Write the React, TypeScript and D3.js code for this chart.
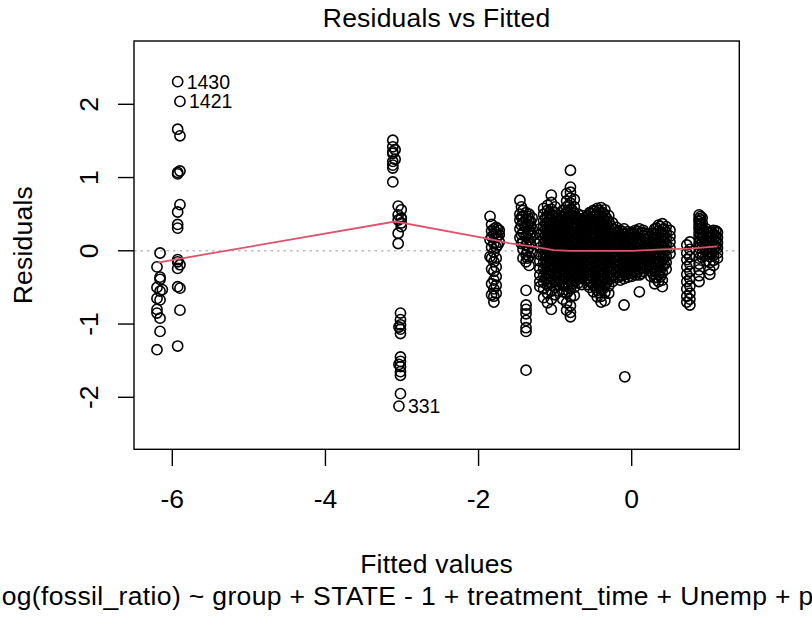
import React from "react";
import * as d3 from "d3";

// Axis ticks
const xTicks = [-6, -4, -2, 0];
const yTicks = [-2, -1, 0, 1, 2];

// Observations grouped by fitted value: [fitted, residuals[]]
const stripesLeft: [number, number[]][] = [
  [-6.2, [-0.22, -0.5, -0.65, -0.8, -0.85, -1.35]],
  [-6.16, [-0.03, -0.36, -0.39, -0.55, -0.67, -0.92, -1.1]],
  [-6.13, [-0.53]],
  [-5.93, [2.31, 1.66, 1.07, 1.05, 0.53, 0.36, 0.31, -0.12, -0.15, -0.24, -0.49, -1.3]],
  [-5.9, [2.04, 1.57, 1.09, 0.63, -0.19, -0.51, -0.81]],
];

const stripesMiddle: [number, number[]][] = [
  [-3.12, [1.51, 1.42, 1.35, 1.33, 1.22, 1.17, 1.13, 0.94]],
  [-3.09, [1.38, 1.25]],
  [-3.05, [0.61, 0.49, 0.42, 0.24, 0.1]],
  [-3.01, [0.56, 0.44, 0.33, 0.45, 0.38]],
  [-3.02, [-0.85, -0.94, -1.01, -1.07, -1.13, -1.45, -1.51, -1.58, -1.65, -1.7, -1.95]],
  [-3.04, [-2.12, -1.04, -1.55]],
];

const stripesRight: [number, number[]][] = [
  [-1.85, [0.47, 0.15, -0.08]],
  [-1.83, [0.36, 0.27, 0.19, 0.05, -0.1, -0.25, -0.45, -0.6]],
  [-1.8, [0.3, 0.22, 0.1, -0.02, -0.15, -0.28, -0.4, -0.52, -0.62, -0.7]],
  [-1.77, [0.32, 0.25, 0.18, 0.05, -0.1, -0.22, -0.35, -0.47, -0.58]],
  [-1.75, [0.3, 0.2, 0.08]],
  [-1.73, [0.28, 0.22, 0.12]],
  [-1.46, [0.69, 0.5, 0.42, 0.3, 0.18]],
  [-1.44, [0.6, 0.46, 0.35, 0.22, 0.1]],
  [-1.42, [0.55, 0.47, 0.38, 0.25, 0.12, 0.02, -0.1]],
  [-1.38, [0.52, 0.44, 0.33, 0.2, 0.08, -0.05, -0.15, -0.54, -0.74, -0.8, -0.86, -0.95, -1.05, -1.1, -1.63]],
  [-1.36, [0.47, 0.36, 0.25, 0.12, 0.0, -0.1]],
  [-1.34, [0.5, 0.4, 0.28, 0.15, 0.05, -0.08, -0.2]],
  [-1.32, [0.4, 0.34, 0.24, 0.1]],
  [-1.3, [0.45, 0.3, 0.2, -0.02]],
  [-1.2, [0.3, 0.22, 0.12, 0.04, -0.05, -0.14, -0.24, -0.33, -0.42, -0.49]],
  [-1.15, [0.58, 0.5, 0.41, 0.33, 0.26, 0.18, 0.1, 0.02, -0.07, -0.16, -0.25, -0.34, -0.43, -0.52, -0.64]],
  [-1.125, [0.45, 0.37, 0.29, 0.2, 0.12, 0.05, -0.03, -0.11, -0.19, -0.28, -0.37]],
  [-1.1, [0.62, 0.55, 0.47, 0.39, 0.31, 0.24, 0.16, 0.09, 0.01, -0.07, -0.15, -0.22, -0.3, -0.38, -0.47, -0.58, -0.71]],
  [-1.075, [0.52, 0.43, 0.35, 0.27, 0.2, 0.12, 0.05, -0.03, -0.11, -0.19, -0.26, -0.34, -0.43]],
  [-1.05, [0.76, 0.66, 0.57, 0.5, 0.43, 0.35, 0.28, 0.21, 0.13, 0.06, -0.02, -0.1, -0.18, -0.27, -0.35, -0.44, -0.55, -0.66, -0.8]],
  [-1.025, [0.47, 0.39, 0.32, 0.25, 0.17, 0.1, 0.02, -0.06, -0.14, -0.22, -0.31, -0.4]],
  [-1.0, [0.6, 0.52, 0.44, 0.37, 0.29, 0.22, 0.15, 0.07, 0.0, -0.08, -0.16, -0.24, -0.33, -0.41, -0.5, -0.6]],
  [-0.975, [0.44, 0.36, 0.29, 0.22, 0.15, 0.08, 0.0, -0.08, -0.16, -0.24, -0.32]],
  [-0.95, [0.48, 0.4, 0.33, 0.26, 0.19, 0.11, 0.04, -0.04, -0.12, -0.2, -0.28, -0.37, -0.46, -0.55]],
  [-0.925, [0.42, 0.35, 0.28, 0.21, 0.13, 0.06, -0.01, -0.09, -0.17, -0.25, -0.33, -0.42]],
  [-0.9, [0.55, 0.46, 0.38, 0.31, 0.24, 0.17, 0.1, 0.03, -0.05, -0.13, -0.21, -0.29, -0.38, -0.47, -0.56, -0.66]],
  [-0.875, [0.5, 0.41, 0.34, 0.27, 0.2, 0.12, 0.05, -0.02, -0.1, -0.18, -0.26, -0.34, -0.43]],
  [-0.85, [0.78, 0.68, 0.6, 0.52, 0.44, 0.37, 0.3, 0.23, 0.16, 0.09, 0.02, -0.06, -0.14, -0.22, -0.3, -0.39, -0.48, -0.58, -0.71, -0.81]],
  [-0.825, [0.62, 0.53, 0.46, 0.38, 0.31, 0.24, 0.16, 0.09, 0.02, -0.05, -0.13, -0.21, -0.29, -0.37, -0.46, -0.55]],
  [-0.8, [1.1, 0.87, 0.8, 0.72, 0.65, 0.57, 0.49, 0.42, 0.35, 0.27, 0.2, 0.13, 0.06, -0.01, -0.09, -0.17, -0.25, -0.33, -0.42, -0.52, -0.63, -0.75, -0.84, -0.9]],
  [-0.775, [0.55, 0.47, 0.39, 0.32, 0.25, 0.17, 0.1, 0.03, -0.04, -0.12, -0.2, -0.28, -0.36, -0.45]],
  [-0.75, [0.7, 0.6, 0.51, 0.44, 0.36, 0.29, 0.21, 0.14, 0.07, 0.0, -0.08, -0.16, -0.24, -0.32, -0.41, -0.5, -0.61]],
  [-0.725, [0.46, 0.38, 0.31, 0.24, 0.16, 0.09, 0.01, -0.07, -0.15, -0.23, -0.31, -0.4]],
  [-0.7, [0.5, 0.42, 0.34, 0.27, 0.2, 0.12, 0.05, -0.03, -0.11, -0.19, -0.27, -0.35, -0.44]],
  [-0.675, [0.44, 0.37, 0.29, 0.22, 0.14, 0.07, -0.01, -0.09, -0.17, -0.25, -0.33]],
  [-0.65, [0.48, 0.4, 0.33, 0.25, 0.18, 0.1, 0.03, -0.05, -0.13, -0.21, -0.29, -0.38, -0.46]],
  [-0.625, [0.41, 0.34, 0.27, 0.19, 0.12, 0.04, -0.03, -0.11, -0.19, -0.27, -0.35]],
  [-0.6, [0.45, 0.37, 0.3, 0.23, 0.15, 0.08, 0.0, -0.07, -0.15, -0.23, -0.31, -0.4]],
  [-0.575, [0.48, 0.4, 0.32, 0.25, 0.18, 0.1, 0.03, -0.05, -0.13, -0.21, -0.29, -0.37, -0.46]],
  [-0.55, [0.52, 0.44, 0.36, 0.28, 0.21, 0.14, 0.06, -0.01, -0.09, -0.17, -0.25, -0.33, -0.42, -0.5]],
  [-0.525, [0.51, 0.43, 0.36, 0.29, 0.21, 0.13, 0.06, -0.02, -0.1, -0.18, -0.26, -0.34, -0.42]],
  [-0.5, [0.55, 0.47, 0.4, 0.32, 0.25, 0.17, 0.1, 0.02, -0.06, -0.14, -0.22, -0.3, -0.38, -0.47, -0.56]],
  [-0.475, [0.54, 0.46, 0.38, 0.31, 0.23, 0.16, 0.08, 0.0, -0.08, -0.16, -0.24, -0.32, -0.41, -0.5]],
  [-0.45, [0.58, 0.5, 0.42, 0.35, 0.27, 0.19, 0.12, 0.04, -0.04, -0.12, -0.2, -0.28, -0.36, -0.45, -0.54, -0.63]],
  [-0.425, [0.55, 0.47, 0.39, 0.32, 0.24, 0.17, 0.09, 0.02, -0.06, -0.14, -0.22, -0.3, -0.39, -0.48, -0.57]],
  [-0.4, [0.59, 0.51, 0.43, 0.36, 0.28, 0.21, 0.13, 0.06, -0.02, -0.1, -0.18, -0.26, -0.34, -0.43, -0.52, -0.62, -0.7]],
  [-0.375, [0.52, 0.44, 0.36, 0.29, 0.21, 0.14, 0.06, -0.01, -0.09, -0.17, -0.25, -0.33, -0.42, -0.52]],
  [-0.35, [0.56, 0.48, 0.4, 0.33, 0.25, 0.18, 0.1, 0.03, -0.05, -0.13, -0.21, -0.29, -0.38, -0.47, -0.57, -0.68]],
  [-0.325, [0.44, 0.36, 0.28, 0.21, 0.13, 0.06, -0.02, -0.1, -0.18, -0.26, -0.34, -0.43]],
  [-0.3, [0.48, 0.4, 0.32, 0.25, 0.17, 0.1, 0.02, -0.06, -0.14, -0.22, -0.3, -0.39, -0.48, -0.58]],
  [-0.275, [0.34, 0.27, 0.19, 0.12, 0.04, -0.04, -0.12, -0.2, -0.28, -0.37]],
  [-0.25, [0.38, 0.3, 0.23, 0.15, 0.08, 0.0, -0.08, -0.16, -0.24, -0.33, -0.42]],
  [-0.225, [0.29, 0.21, 0.14, 0.06, -0.01, -0.09, -0.17, -0.25, -0.33]],
  [-0.2, [0.32, 0.25, 0.17, 0.1, 0.03, -0.05, -0.13, -0.21, -0.29, -0.37]],
  [-0.175, [0.25, 0.17, 0.1, 0.02, -0.05, -0.13, -0.21, -0.29, -0.36]],
  [-0.15, [0.28, 0.21, 0.14, 0.06, -0.01, -0.09, -0.17, -0.25, -0.33, -0.4]],
  [-0.125, [0.26, 0.19, 0.12, 0.04, -0.03, -0.11, -0.19, -0.27, -0.34]],
  [-0.1, [0.3, 0.23, 0.16, 0.08, 0.01, -0.07, -0.15, -0.23, -0.31, -0.38, -0.74]],
  [-0.09, [-1.72]],
  [-0.075, [0.23, 0.15, 0.08, 0.0, -0.08, -0.16, -0.24, -0.32]],
  [-0.05, [0.26, 0.19, 0.11, 0.04, -0.04, -0.12, -0.2, -0.28, -0.36]],
  [-0.025, [0.22, 0.14, 0.07, -0.01, -0.09, -0.17, -0.25, -0.31]],
  [0.0, [0.25, 0.18, 0.1, 0.03, -0.05, -0.13, -0.21, -0.29, -0.35]],
  [0.025, [0.24, 0.16, 0.09, 0.01, -0.06, -0.14, -0.22, -0.3]],
  [0.05, [0.28, 0.2, 0.13, 0.05, -0.02, -0.1, -0.18, -0.26, -0.33]],
  [0.075, [0.26, 0.18, 0.1, 0.03, -0.05, -0.13, -0.21, -0.29]],
  [0.1, [0.3, 0.22, 0.14, 0.07, -0.01, -0.09, -0.17, -0.25, -0.33, -0.56]],
  [0.125, [0.25, 0.16, 0.09, 0.01, -0.07, -0.15, -0.23, -0.31]],
  [0.15, [0.28, 0.2, 0.12, 0.05, -0.03, -0.11, -0.19, -0.28]],
  [0.175, [0.24, 0.16, 0.09, 0.02, -0.06, -0.14, -0.22]],
  [0.2, [0.22, 0.15, 0.07, 0.0, -0.08, -0.16, -0.24]],
  [0.225, [0.18, 0.1, 0.03, -0.05, -0.13, -0.21]],
  [0.25, [0.2, 0.12, 0.05, -0.03, -0.11, -0.19, -0.27, -0.35]],
  [0.275, [0.24, 0.16, 0.09, 0.01, -0.07, -0.15, -0.23, -0.31]],
  [0.3, [0.3, 0.22, 0.14, 0.06, -0.02, -0.1, -0.19, -0.28, -0.37, -0.45]],
  [0.325, [0.31, 0.23, 0.15, 0.07, -0.01, -0.09, -0.18, -0.27, -0.36]],
  [0.35, [0.35, 0.27, 0.19, 0.11, 0.03, -0.05, -0.14, -0.23, -0.32, -0.42]],
  [0.375, [0.33, 0.25, 0.17, 0.09, 0.01, -0.08, -0.17, -0.26, -0.35]],
  [0.4, [0.37, 0.29, 0.21, 0.13, 0.05, -0.03, -0.12, -0.21, -0.3, -0.4, -0.49]],
  [0.425, [0.3, 0.22, 0.14, 0.06, -0.02, -0.1, -0.19]],
  [0.45, [0.33, 0.25, 0.17, 0.09, 0.01, -0.07, -0.16, -0.25]],
  [0.5, [0.28, 0.2, 0.12, 0.04, -0.04]],
  [0.72, [0.08, -0.03, -0.12, -0.22, -0.32, -0.42, -0.52, -0.62, -0.7]],
  [0.76, [0.12, 0.02, -0.08, -0.18, -0.28, -0.38, -0.48, -0.58, -0.66, -0.74]],
  [0.88, [0.49, 0.44, 0.4, 0.35, 0.3, 0.24, 0.18, 0.11, 0.04, -0.03, -0.1, -0.18, -0.26, -0.34, -0.42]],
  [0.9, [0.47, 0.42, 0.37, 0.3, 0.22, 0.15, 0.08]],
  [0.92, [0.45, 0.38, 0.32, 0.25, 0.19, 0.12, 0.05, -0.02, -0.09]],
  [0.97, [0.3, 0.22, 0.15, 0.08, 0.01, -0.06, -0.14]],
  [1.0, [0.24, 0.17, 0.1, 0.03, -0.04]],
  [1.02, [0.26, 0.2, 0.13, 0.06, -0.01, -0.08, -0.16, -0.26, -0.32]],
  [1.05, [0.25, 0.18, 0.11, 0.04, -0.03]],
  [1.07, [0.28, 0.22, 0.15, 0.08, 0.01, -0.06, -0.13, -0.2]],
  [1.1, [0.27, 0.2, 0.13, 0.06]],
  [1.12, [0.25, 0.18, 0.11, 0.04, -0.03, -0.1]],
];

// Largest residuals, labelled by observation number
const labelled = [
  { id: "1430", fitted: -5.93, resid: 2.31 },
  { id: "1421", fitted: -5.9, resid: 2.04 },
  { id: "331", fitted: -3.04, resid: -2.12 },
];

// Smoothed trend of residuals against fitted values
const smoothFitted = [-6.19, -3.09, -1.85, -1.59, -1.24, -1.02, -0.8, -0.4, 0.0, 0.4, 0.76, 1.12];
const smoothResid = [-0.16, 0.4, 0.16, 0.1, 0.05, 0.01, 0.0, 0.0, 0.0, 0.02, 0.03, 0.06];

const W = 812;
const H = 617;
const box = { left: 134, right: 739.3, top: 41, bottom: 449.3 };
const FONT = "'Liberation Sans', Arial, Helvetica, sans-serif";
const FS = 26.5;

export default function App() {
  const x = d3.scaleLinear().domain([-6, 0]).range([172.3, 631.7]);
  const y = d3.scaleLinear().domain([-2, 2]).range([397.3, 104.3]);

  const points = [...stripesLeft, ...stripesMiddle, ...stripesRight].flatMap(([f, rs]) =>
    rs.map((r) => [f, r] as [number, number])
  );

  const smooth = d3
    .line<number>()
    .x((_, i) => x(smoothFitted[i]))
    .y((_, i) => y(smoothResid[i]))(smoothResid.map((_, i) => i));

  const cx = (box.left + box.right) / 2;
  const cy = (box.top + box.bottom) / 2;

  return (
    <svg
      width={W}
      height={H}
      style={{ position: "absolute", left: 0, top: 0, background: "#fff" }}
      fontFamily={FONT}
    >
      <rect x={0} y={0} width={W} height={H} fill="#fff" />
      <text x={cx} y={27.3} fontSize={FS} textAnchor="middle" letterSpacing={0.2}>
        Residuals vs Fitted
      </text>

      {/* zero reference */}
      <line
        x1={box.left}
        x2={box.right}
        y1={y(0)}
        y2={y(0)}
        stroke="#bebebe"
        strokeWidth={1.5}
        strokeDasharray="2.5 4"
      />

      {/* observations */}
      <g fill="none" stroke="#000" strokeWidth={1.6}>
        {points.map(([f, r], i) => (
          <circle key={i} cx={x(f)} cy={y(r)} r={5.1} />
        ))}
      </g>

      {/* smoother */}
      <path d={smooth ?? ""} fill="none" stroke="#DF536B" strokeWidth={1.8} />

      {labelled.map((d) => (
        <text
          key={d.id}
          x={x(d.fitted) + 9}
          y={y(d.resid)}
          fontSize={19.5}
          dominantBaseline="central"
        >
          {d.id}
        </text>
      ))}

      <rect
        x={box.left}
        y={box.top}
        width={box.right - box.left}
        height={box.bottom - box.top}
        fill="none"
        stroke="#000"
        strokeWidth={1.4}
      />

      {/* x axis */}
      {xTicks.map((t) => (
        <g key={t}>
          <line x1={x(t)} x2={x(t)} y1={box.bottom} y2={box.bottom + 16.7} stroke="#000" strokeWidth={1.4} />
          <text x={x(t)} y={508} fontSize={FS} textAnchor="middle">
            {t}
          </text>
        </g>
      ))}

      {/* y axis */}
      {yTicks.map((t) => (
        <g key={t}>
          <line x1={box.left - 16} x2={box.left} y1={y(t)} y2={y(t)} stroke="#000" strokeWidth={1.4} />
          <text
            transform={`translate(98,${y(t)}) rotate(-90)`}
            fontSize={FS}
            textAnchor="middle"
          >
            {t}
          </text>
        </g>
      ))}

      <text transform={`translate(31.7,${cy}) rotate(-90)`} fontSize={FS} textAnchor="middle" letterSpacing={0.2}>
        Residuals
      </text>
      <text x={cx} y={573.3} fontSize={FS} textAnchor="middle" letterSpacing={0.2}>
        Fitted values
      </text>
      <text x={-42.4} y={605} fontSize={FS} letterSpacing={0.35}>
        lm(log(fossil_ratio) ~ group + STATE - 1 + treatment_time + Unemp + pop_den ...
      </text>
    </svg>
  );
}
